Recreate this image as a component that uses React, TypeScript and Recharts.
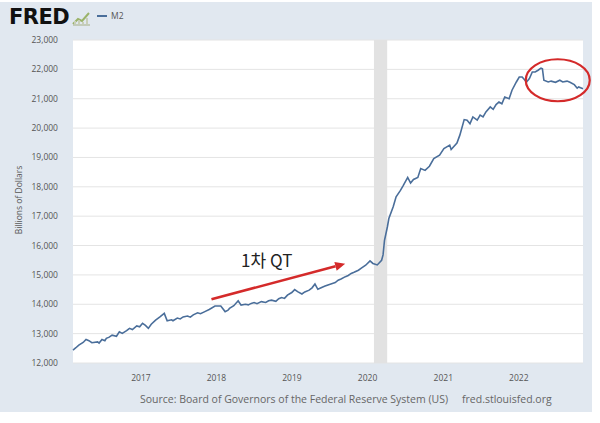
import React from "react";
import {
  ComposedChart,
  Line,
  XAxis,
  YAxis,
  CartesianGrid,
  ReferenceArea,
  ReferenceLine,
  ReferenceDot,
} from "recharts";

// Weekly M2 (billions of dollars)
const dates: string[] = [
  "2016-02-08", "2016-02-22", "2016-03-07", "2016-03-28", "2016-04-11", "2016-04-25", "2016-05-09", "2016-06-06",
  "2016-06-13", "2016-06-27", "2016-07-11", "2016-07-18", "2016-08-01", "2016-08-15", "2016-09-05", "2016-09-19",
  "2016-10-03", "2016-10-24", "2016-11-07", "2016-11-21", "2016-12-12", "2016-12-26", "2017-01-09", "2017-01-23",
  "2017-02-06", "2017-02-20", "2017-03-13", "2017-04-03", "2017-04-24", "2017-05-08", "2017-05-29", "2017-06-05",
  "2017-06-26", "2017-07-10", "2017-07-24", "2017-08-14", "2017-08-28", "2017-09-11", "2017-10-02", "2017-10-16",
  "2017-11-06", "2017-11-27", "2017-12-25", "2018-01-22", "2018-02-12", "2018-02-26", "2018-03-05", "2018-03-26",
  "2018-04-16", "2018-04-30", "2018-05-21", "2018-06-04", "2018-06-18", "2018-07-02", "2018-07-16", "2018-08-06",
  "2018-08-27", "2018-09-10", "2018-09-24", "2018-10-15", "2018-10-29", "2018-11-12", "2018-11-26", "2018-12-10",
  "2018-12-31", "2019-01-14", "2019-01-28", "2019-02-18", "2019-03-04", "2019-03-25", "2019-04-08", "2019-04-22",
  "2019-05-06", "2019-05-27", "2019-06-10", "2019-06-24", "2019-07-15", "2019-07-29", "2019-08-12", "2019-08-26",
  "2019-09-16", "2019-09-30", "2019-10-14", "2019-10-28", "2019-11-18", "2019-12-02", "2019-12-23", "2020-01-13",
  "2020-01-27", "2020-02-17", "2020-03-09", "2020-03-16", "2020-03-23", "2020-04-06", "2020-04-13", "2020-05-04",
  "2020-05-18", "2020-06-08", "2020-06-22", "2020-07-13", "2020-07-27", "2020-08-10", "2020-08-31", "2020-09-14",
  "2020-10-05", "2020-10-26", "2020-11-16", "2020-12-14", "2021-01-04", "2021-02-01", "2021-02-08", "2021-03-08",
  "2021-03-22", "2021-04-12", "2021-04-26", "2021-05-10", "2021-05-24", "2021-06-14", "2021-06-28", "2021-07-12",
  "2021-07-26", "2021-08-16", "2021-08-30", "2021-09-13", "2021-09-27", "2021-10-11", "2021-10-25", "2021-11-15",
  "2021-11-29", "2021-12-20", "2022-01-03", "2022-01-17", "2022-02-07", "2022-02-21", "2022-03-07", "2022-03-21",
  "2022-04-04", "2022-04-18", "2022-04-25", "2022-05-02", "2022-05-23", "2022-06-06", "2022-06-27", "2022-07-18",
  "2022-08-01", "2022-08-22", "2022-09-05", "2022-09-26", "2022-10-10", "2022-10-17", "2022-11-07",
];

const m2: number[] = [
  12440, 12520, 12610, 12700, 12800, 12760, 12690, 12720,
  12680, 12800, 12760, 12840, 12880, 12950, 12910, 13060,
  13010, 13100, 13180, 13140, 13260, 13230, 13350, 13280,
  13180, 13320, 13460, 13570, 13690, 13440, 13470, 13440,
  13530, 13500, 13570, 13600, 13560, 13640, 13710, 13680,
  13750, 13820, 13940, 13940, 13750, 13800, 13860, 13950,
  14120, 13970, 14000, 13980, 14030, 14060, 14020, 14090,
  14060, 14120, 14140, 14100, 14190, 14230, 14200, 14310,
  14400, 14500, 14430, 14350, 14420, 14480, 14560, 14690,
  14510, 14580, 14620, 14660, 14710, 14740, 14820, 14860,
  14940, 14980, 15050, 15090, 15160, 15230, 15330, 15480,
  15390, 15340, 15500, 15680, 16180, 16640, 16920, 17320,
  17660, 17880, 18050, 18320, 18130, 18250, 18320, 18620,
  18560, 18700, 18960, 19080, 19300, 19420, 19270, 19490,
  19760, 20290, 20270, 20150, 20380, 20270, 20440, 20380,
  20550, 20720, 20640, 20800, 20890, 20830, 21060, 21000,
  21290, 21570, 21740, 21740, 21570, 21690, 21910, 21910,
  21970, 22040, 22020, 21630, 21570, 21600, 21560, 21630,
  21570, 21600, 21560, 21480, 21360, 21400, 21340,
];

const yTicks: number[] = [12000, 13000, 14000, 15000, 16000, 17000, 18000, 19000, 20000, 21000, 22000, 23000];
const xTickYears: number[] = [2017, 2018, 2019, 2020, 2021, 2022];

const recessionStart = "2020-02-01";
const recessionEnd = "2020-04-05";

// Annotations (data coordinates)
const arrowFrom = { date: "2017-12-08", value: 14170 };
const arrowTo = { date: "2019-09-15", value: 15380 };
const qtLabel = { date: "2018-09-01", value: 15540, text: "1차 QT" };
const circleCenter = { date: "2022-07-08", value: 21630 };

const seriesName = "M2";
const yLabel = "Billions of Dollars";
const sourceText = "Source: Board of Governors of the Federal Reserve System (US)";
const siteText = "fred.stlouisfed.org";

const ts = (d: string) => {
  const [y, m, dd] = d.split("-").map(Number);
  return Date.UTC(y, m - 1, dd);
};

const data = dates.map((d, i) => ({ t: ts(d), v: m2[i] }));
const xTicks = xTickYears.map((y) => Date.UTC(y, 0, 1));

const W = 600;
const H = 423;
const BG = "#e1e8f0";
const LINE = "#4a6e9a";

const ArrowShape = (props: any) => {
  const { x1, y1, x2, y2 } = props;
  if ([x1, y1, x2, y2].some((v) => v === undefined || isNaN(v))) return null;
  const ang = Math.atan2(y2 - y1, x2 - x1);
  const len = 10;
  const wid = 4.5;
  const bx = x2 - len * Math.cos(ang);
  const by = y2 - len * Math.sin(ang);
  const px = -Math.sin(ang) * wid;
  const py = Math.cos(ang) * wid;
  return (
    <g>
      <line x1={x1} y1={y1} x2={bx} y2={by} stroke="#d42a2a" strokeWidth={2.6} />
      <polygon
        points={`${x2},${y2} ${bx + px},${by + py} ${bx - px},${by - py}`}
        fill="#d42a2a"
      />
    </g>
  );
};

export default function App() {
  return (
    <div style={{ position: "relative", width: W, height: H, background: "#ffffff", overflow: "hidden" }}>
      <style>{`body{margin:0;}`}</style>
      <div
        style={{
          position: "absolute",
          left: 0,
          top: 2,
          width: 592,
          height: 410,
          background: BG,
        }}
      />
      {/* Header */}
      <div
        style={{
          position: "absolute",
          left: 9,
          top: 5,
          fontFamily: "'DejaVu Sans', sans-serif",
          fontWeight: 900,
          fontSize: 21,
          letterSpacing: -0.5,
          color: "#111",
          lineHeight: "24px",
        }}
      >
        FRED
      </div>
      <svg style={{ position: "absolute", left: 72, top: 10 }} width={20} height={16}>
        <path d="M1 14 L6 9 L10 11 L17 3" stroke="#9bb36a" strokeWidth={2} fill="none" />
        <path d="M1 15 L18 15" stroke="#b8c2a8" strokeWidth={1.5} />
        <path d="M3 14 L3 11 M7 14 L7 10 M11 14 L11 12 M15 14 L15 8" stroke="#c9cfb8" strokeWidth={2} />
      </svg>
      <div style={{ position: "absolute", left: 97, top: 15, width: 10, height: 2, background: LINE }} />
      <div
        style={{
          position: "absolute",
          left: 111,
          top: 10,
          fontFamily: "'Open Sans', 'DejaVu Sans', sans-serif",
          fontSize: 8.5,
          color: "#555",
          lineHeight: "12px",
        }}
      >
        {seriesName}
      </div>
      {/* Y label */}
      <div
        style={{
          position: "absolute",
          left: 18,
          top: 200,
          transform: "translate(-50%, -50%) rotate(-90deg)",
          fontFamily: "'Open Sans', 'DejaVu Sans', sans-serif",
          fontSize: 8.5,
          color: "#555",
          whiteSpace: "nowrap",
        }}
      >
        {yLabel}
      </div>
      {/* Source */}
      <div
        style={{
          position: "absolute",
          left: 140,
          top: 392,
          fontFamily: "'Open Sans', 'DejaVu Sans', sans-serif",
          fontSize: 10.5,
          color: "#666",
          whiteSpace: "nowrap",
        }}
      >
        {sourceText}
      </div>
      <div
        style={{
          position: "absolute",
          left: 462,
          top: 392,
          fontFamily: "'Open Sans', 'DejaVu Sans', sans-serif",
          fontSize: 10.5,
          color: "#666",
          whiteSpace: "nowrap",
        }}
      >
        {siteText}
      </div>
      <div style={{ position: "absolute", left: 0, top: 0 }}>
        <ComposedChart
          width={W}
          height={H}
          data={data}
          margin={{ top: 40, right: 17, bottom: 30, left: 0 }}
        >
          <CartesianGrid vertical={false} stroke="#e4e4e4" fill="#ffffff" horizontalValues={yTicks} />
          <XAxis
            dataKey="t"
            type="number"
            scale="time"
            domain={[data[0].t, data[data.length - 1].t]}
            ticks={xTicks}
            tickFormatter={(v: number) => String(new Date(v).getUTCFullYear())}
            axisLine={false}
            tickLine={false}
            height={30}
            tick={{ fontSize: 8.5, fill: "#555", fontFamily: "'Open Sans', 'DejaVu Sans', sans-serif" }}
            tickMargin={6}
          />
          <YAxis
            type="number"
            domain={[12000, 23000]}
            ticks={yTicks}
            width={73}
            axisLine={false}
            tickLine={false}
            interval={0}
            tickFormatter={(v: number) => v.toLocaleString("en-US")}
            tick={{ fontSize: 8.5, fill: "#555", fontFamily: "'Open Sans', 'DejaVu Sans', sans-serif" }}
            tickMargin={9}
          />
          <ReferenceArea
            x1={ts(recessionStart)}
            x2={ts(recessionEnd)}
            y1={12000}
            y2={23000}
            fill="#e2e2e2"
            fillOpacity={1}
            stroke="none"
          />
          <Line
            type="linear"
            dataKey="v"
            stroke={LINE}
            strokeWidth={1.6}
            dot={false}
            isAnimationActive={false}
          />
          <ReferenceLine
            segment={[
              { x: ts(arrowFrom.date), y: arrowFrom.value },
              { x: ts(arrowTo.date), y: arrowTo.value },
            ]}
            ifOverflow="visible"
            shape={ArrowShape}
          />
          <ReferenceDot
            x={ts(qtLabel.date)}
            y={qtLabel.value}
            ifOverflow="visible"
            shape={(p: any) => (
              <text
                x={p.cx}
                y={p.cy}
                textAnchor="middle"
                dominantBaseline="central"
                fontSize={17}
                fill="#222"
                fontFamily="'Noto Sans CJK KR', sans-serif"
              >
                {qtLabel.text}
              </text>
            )}
          />
          <ReferenceDot
            x={ts(circleCenter.date)}
            y={circleCenter.value}
            ifOverflow="visible"
            shape={(p: any) => (
              <ellipse cx={p.cx} cy={p.cy} rx={32} ry={21} fill="none" stroke="#d42a2a" strokeWidth={2.2} />
            )}
          />
        </ComposedChart>
      </div>
    </div>
  );
}
